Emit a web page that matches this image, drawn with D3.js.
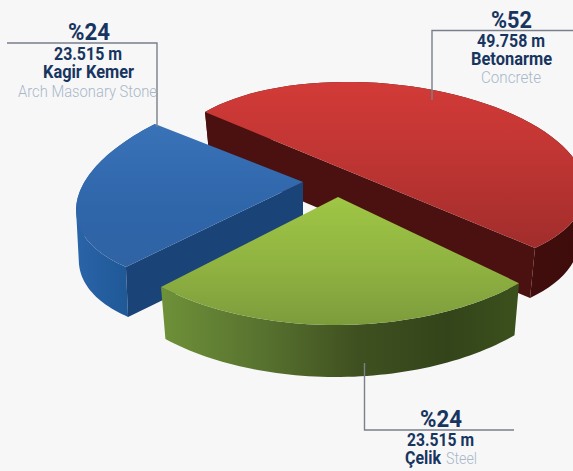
<!DOCTYPE html>
<html><head><meta charset="utf-8">
<script src="https://cdn.jsdelivr.net/npm/d3@7"></script>
<style>html,body{margin:0;padding:0;background:#f7f7f8;overflow:hidden}svg{display:block}</style>
</head><body><div id="chart"></div>
<script>
const categories = ["Betonarme", "Kagir Kemer", "Çelik"];
const categoriesEn = ["Concrete", "Arch Masonary Stone", "Steel"];
const shares = [52, 24, 24];
const lengths = ["49.758 m", "23.515 m", "23.515 m"];

const W = 573, H = 471;
const svg = d3.select("#chart").append("svg").attr("width", W).attr("height", H);
svg.append("rect").attr("width", W).attr("height", H).attr("fill", "#f7f7f8");
const defs = svg.append("defs");

// One projection per slice: apex, the vector to the slice's first corner,
// its conjugate, the swept angle on the ellipse, and a small outward bulge.
const look = [
  {o:[370,180], u:[-165,-68], v:[128,-66], sweep:180, bulge:.05, depth:50, taper:.03, faces:[0,1],
   top:{dir:[0,86,0,250], stops:[["0%","#d13a37"],["45%","#bf3533"],["100%","#a02d2b"]]},
   wall:{dir:[205,0,575,0], stops:[["0%","#4c1211"],["100%","#3f0c0c"]]}, face:"#4a1110"},
  {o:[303,182], u:[-148,-58], v:[-172,87], sweep:88, bulge:0, depth:50, taper:.012, faces:[1],
   top:{dir:[0,124,0,267], stops:[["0%","#3a72b8"],["60%","#2f66aa"],["100%","#2f63a4"]]},
   wall:{dir:[78,0,133,0], stops:[["0%","#2a64a8"],["100%","#1e5795"]]}, face:"#1a4377"},
  {o:[338,197], u:[-177,90], v:[172,91], sweep:93, bulge:0, depth:52, taper:.025, faces:[],
   top:{dir:[0,197,0,325], stops:[["0%","#9fc645"],["55%","#8fb241"],["100%","#7c9c3c"]]},
   wall:{dir:[161,0,519,0], stops:[["0%","#6f9139"],["30%","#56702e"],["55%","#3f5020"],["80%","#33441a"],["100%","#3b511c"]]}, face:"#33441a"}
];

function gradient(id, g){
  const lg = defs.append("linearGradient").attr("id", id).attr("gradientUnits","userSpaceOnUse")
    .attr("x1",g.dir[0]).attr("y1",g.dir[1]).attr("x2",g.dir[2]).attr("y2",g.dir[3]);
  g.stops.forEach(s => lg.append("stop").attr("offset",s[0]).attr("stop-color",s[1]));
}

const pie = d3.pie().sort(null).value(d => d);
const arcs = pie(shares);
const line = d3.line();

arcs.forEach((a, i) => {
  const c = look[i];
  const sweep = c.sweep * Math.PI / 180;
  const toT = d3.scaleLinear().domain([a.startAngle, a.endAngle]).range([0, sweep]);
  const rim = angle => {
    const t = toT(angle), k = 1 + c.bulge * Math.sin(Math.PI * t / sweep);
    return [c.o[0] + (c.u[0]*Math.cos(t) + c.v[0]*Math.sin(t))*k,
            c.o[1] + (c.u[1]*Math.cos(t) + c.v[1]*Math.sin(t))*k];
  };
  const drop = p => [c.o[0] + (p[0]-c.o[0])*(1-c.taper), p[1] + c.depth];
  const steps = d3.range(0, 61).map(n => a.startAngle + (a.endAngle-a.startAngle)*n/60);
  const outer = steps.map(rim);
  gradient("top"+i, c.top); gradient("wall"+i, c.wall);
  const g = svg.append("g");
  // The wall is the union of one small quad per rim step, all wound the same way.
  const wall = d3.pairs(outer).map(([p, q]) => {
    const quad = [p, q, drop(q), drop(p)];
    return line(d3.polygonArea(quad) < 0 ? quad.slice().reverse() : quad) + "Z";
  }).join("");
  g.append("path").attr("d", wall).attr("fill",`url(#wall${i})`);
  const ends = [outer[0], outer[outer.length-1]];
  c.faces.forEach(f => g.append("path")
    .attr("d", line([c.o, ends[f], drop(ends[f]), drop(c.o)])+"Z").attr("fill", c.face));
  g.append("path").attr("d", line([c.o].concat(outer))+"Z").attr("fill",`url(#top${i})`);
});

// Leader lines
const leaders = [
  [[432,100],[432,30.5],[573,30.5]],
  [[157,127],[157,43],[7,43]],
  [[364.5,363],[364.5,430],[514,430]]
];
leaders.forEach(l => svg.append("path").attr("d", line(l)).attr("fill","none")
  .attr("stroke","#7a8089").attr("stroke-width",1.4));

// Text
const navy = "#17355f", pale = "#aab7c9";
function label(x0, x1, y, txt, size, weight, color){
  svg.append("text").attr("x",x0).attr("y",y).text(txt)
    .attr("font-family","Roboto, 'Liberation Sans', sans-serif")
    .attr("font-size",size).attr("font-weight",weight).attr("fill",color)
    .attr("textLength",x1-x0).attr("lengthAdjust","spacingAndGlyphs");
}
label(491,532,28,"%"+shares[0],24,700,navy);
label(477,545,46.5,lengths[0],17.5,700,navy);
label(471,552,64.5,categories[0],17.5,700,navy);
label(481,541,83,categoriesEn[0],17,300,pale);

label(68,110,40,"%"+shares[1],24,700,navy);
label(54,122,60,lengths[1],17.5,700,navy);
label(43,134,78,categories[1],17.5,700,navy);
label(18,157,97,categoriesEn[1],17,300,pale);

label(420,462,427,"%"+shares[2],24,700,navy);
label(407,474,446,lengths[2],17.5,700,navy);
label(405,441,464,categories[2],17.5,700,navy);
label(446,477,464,categoriesEn[2],17,300,pale);
</script></body></html>
